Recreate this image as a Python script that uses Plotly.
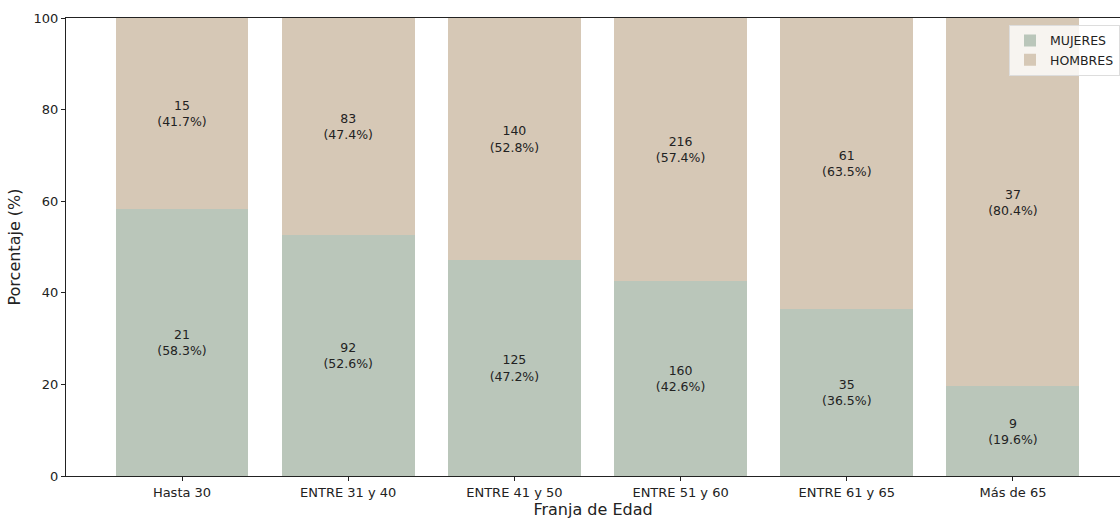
import plotly.graph_objects as go

categories = ["Hasta 30", "ENTRE 31 y 40", "ENTRE 41 y 50", "ENTRE 51 y 60", "ENTRE 61 y 65", "Más de 65"]
mujeres = [21, 92, 125, 160, 35, 9]
hombres = [15, 83, 140, 216, 61, 37]
y_ticks = [0, 20, 40, 60, 80, 100]

totals = [m + h for m, h in zip(mujeres, hombres)]
pct_m = [100 * m / t for m, t in zip(mujeres, totals)]
pct_h = [100 * h / t for h, t in zip(hombres, totals)]

col_m = "rgb(186,198,186)"
col_h = "rgb(214,200,182)"
font = "DejaVu Sans"

fig = go.Figure()
fig.add_trace(go.Bar(
    name="MUJERES", x=list(range(len(categories))), y=pct_m, width=0.8,
    marker=dict(color=col_m, line=dict(width=0)),
    text=[f"{c}<br>({p:.1f}%)" for c, p in zip(mujeres, pct_m)],
    textposition="inside", insidetextanchor="middle", textangle=0,
    textfont=dict(family=font, size=12.5, color="#222222"),
))
fig.add_trace(go.Bar(
    name="HOMBRES", x=list(range(len(categories))), y=pct_h, width=0.8,
    marker=dict(color=col_h, line=dict(width=0)),
    text=[f"{c}<br>({p:.1f}%)" for c, p in zip(hombres, pct_h)],
    textposition="inside", insidetextanchor="middle", textangle=0,
    textfont=dict(family=font, size=12.5, color="#222222"),
))

fig.update_layout(
    width=1120, height=520,
    barmode="stack",
    plot_bgcolor="white", paper_bgcolor="white",
    margin=dict(l=66, r=0, t=18, b=44),
    font=dict(family=font, size=13, color="#222222"),
    legend=dict(
        x=1.0, xanchor="right", y=0.985, yanchor="top",
        traceorder="normal",
        bgcolor="rgba(255,255,255,0.8)", bordercolor="#dddddd", borderwidth=1,
        font=dict(family=font, size=12.5, color="#222222"),
        tracegroupgap=0,
    ),
    xaxis=dict(
        range=[-0.698, 5.644],
        tickmode="array", tickvals=list(range(len(categories))), ticktext=categories,
        showline=True, linecolor="#222222", linewidth=1, mirror=True,
        ticks="outside", ticklen=4, tickcolor="#222222",
        showgrid=False, zeroline=False,
        title=dict(text="Franja de Edad", font=dict(family=font, size=16), standoff=2),
        tickfont=dict(family=font, size=13),
    ),
    yaxis=dict(
        range=[0, 100],
        tickmode="array", tickvals=y_ticks,
        showline=True, linecolor="#222222", linewidth=1, mirror=False,
        ticks="outside", ticklen=4, tickcolor="#222222",
        showgrid=False, zeroline=False,
        title=dict(text="Porcentaje (%)", font=dict(family=font, size=16), standoff=8),
        tickfont=dict(family=font, size=13),
    ),
)

fig.write_html(
    "out.html",
    config={"displayModeBar": False},
    post_script="document.body.style.margin='0';document.body.style.overflow='hidden';",
)
